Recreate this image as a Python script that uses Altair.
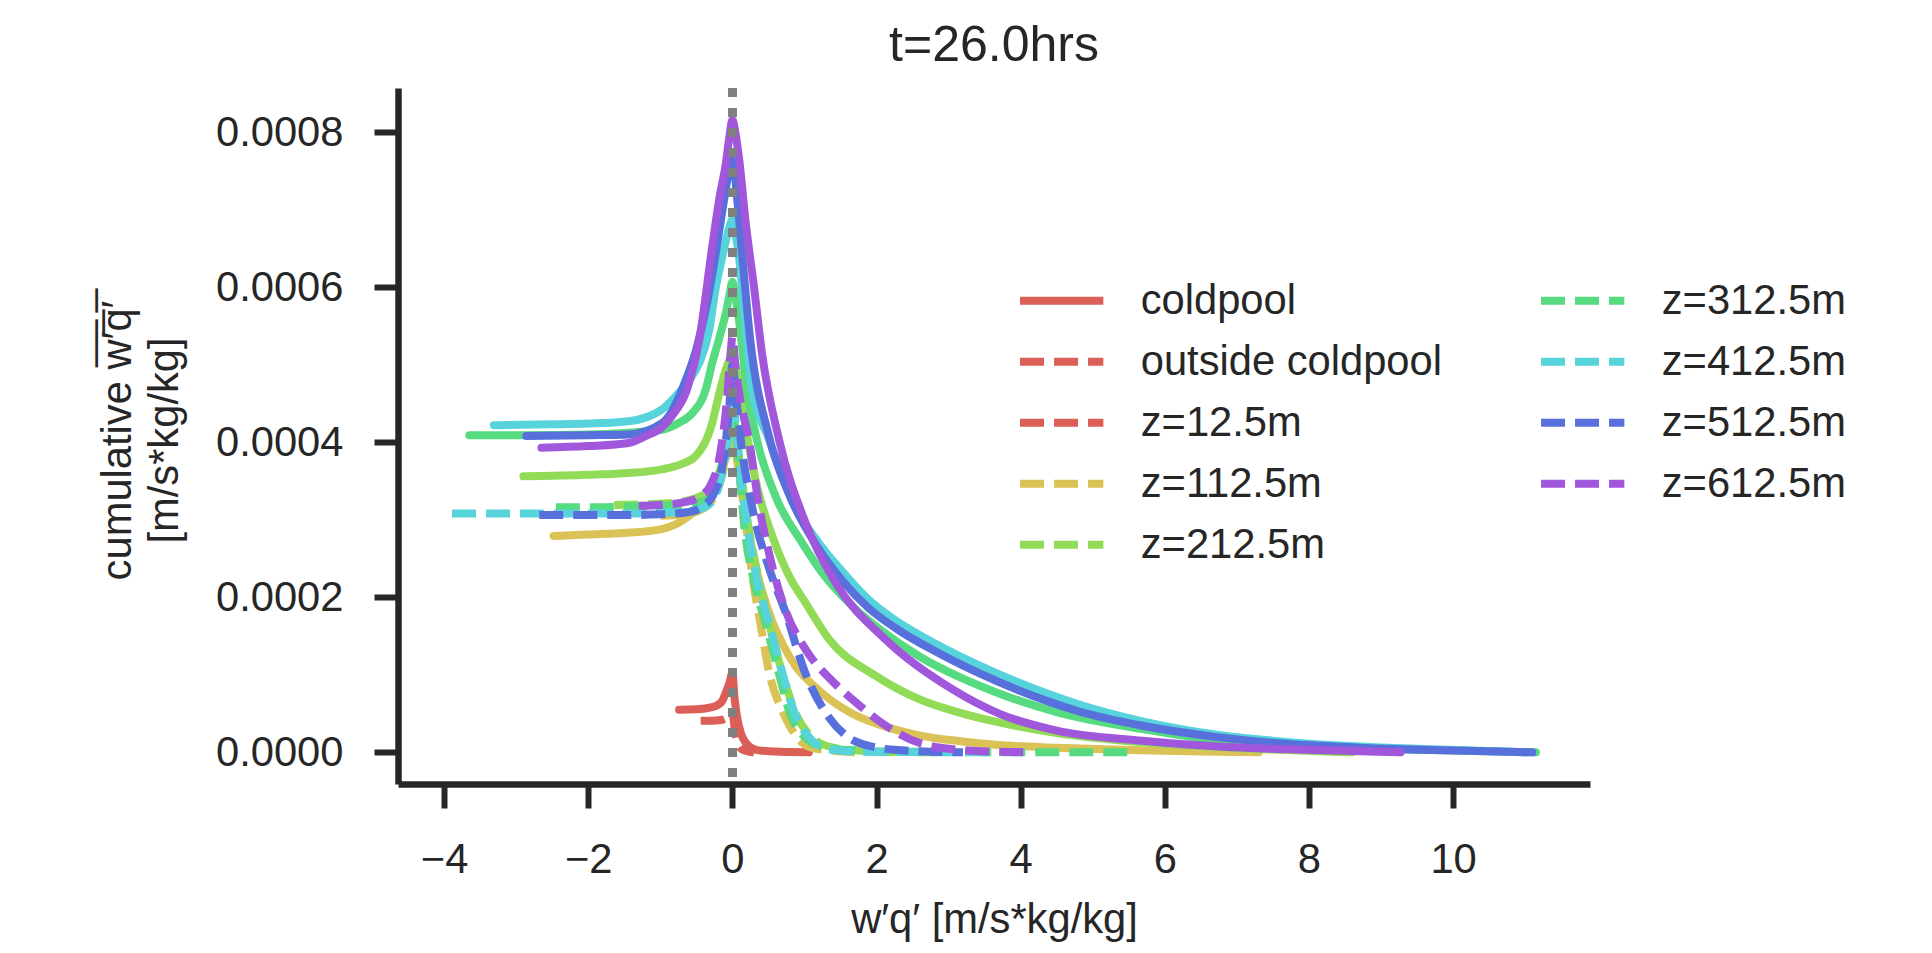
import altair as alt
import pandas as pd

# ---------------- data ----------------
heights = ["z=12.5m", "z=112.5m", "z=212.5m", "z=312.5m", "z=412.5m", "z=512.5m", "z=612.5m"]
colors = ["#db5f57", "#dbc257", "#91db57", "#57db80", "#57d3db", "#5770db", "#a157db"]

# coldpool (solid lines)
cp12_x = [-0.74, -0.5, -0.28, -0.15, -0.09, -0.04, 0.0, 0.03, 0.07, 0.12, 0.18, 0.28, 0.41, 0.6, 0.8, 1.06]
cp12_y = [0.55e-4, 0.555e-4, 0.583e-4, 0.65e-4, 0.773e-4, 0.90e-4, 1.03e-4, 0.70e-4, 0.43e-4, 0.24e-4,
          0.13e-4, 0.05e-4, 0.02e-4, 0.01e-4, 0.005e-4, 0.0]

cp112_x = [-2.48, -2.0, -1.5, -0.98, -0.6, -0.33, -0.15, -0.05, 0.0, 0.04, 0.1, 0.2, 0.35, 0.51, 0.8,
           1.2, 1.66, 2.2, 2.59, 3.2, 3.7, 4.5, 5.5, 6.5, 7.3]
cp112_y = [2.79e-4, 2.81e-4, 2.83e-4, 2.88e-4, 3.05e-4, 3.30e-4, 3.60e-4, 4.00e-4, 4.30e-4, 4.10e-4,
           3.70e-4, 3.00e-4, 2.30e-4, 1.80e-4, 1.22e-4, 0.80e-4, 0.50e-4, 0.31e-4, 0.22e-4, 0.14e-4,
           0.095e-4, 0.06e-4, 0.03e-4, 0.01e-4, 0.0]

cp212_x = [-2.9, -2.0, -1.5, -0.98, -0.7, -0.51, -0.28, -0.19, -0.09, 0.0, 0.04, 0.1, 0.2, 0.35, 0.55,
           0.8, 1.0, 1.34, 2.0, 2.59, 3.2, 3.7, 4.5, 5.69, 6.7, 7.7, 8.6]
cp212_y = [3.56e-4, 3.58e-4, 3.60e-4, 3.65e-4, 3.72e-4, 3.82e-4, 4.25e-4, 4.60e-4, 4.94e-4, 5.10e-4,
           5.00e-4, 4.70e-4, 4.10e-4, 3.40e-4, 2.80e-4, 2.25e-4, 1.95e-4, 1.46e-4, 0.98e-4, 0.686e-4,
           0.50e-4, 0.386e-4, 0.25e-4, 0.13e-4, 0.07e-4, 0.03e-4, 0.0]

cp312_x = [-3.65, -3.0, -2.0, -1.5, -0.98, -0.74, -0.56, -0.37, -0.28, -0.18, -0.09, -0.04, 0.0,
           0.04, 0.09, 0.2, 0.34, 0.6, 0.97, 1.3, 1.66, 2.1, 2.59, 3.2, 3.7, 4.5, 5.69, 6.7, 7.7,
           8.7, 9.7, 11.15]
cp312_y = [4.09e-4, 4.09e-4, 4.10e-4, 4.12e-4, 4.16e-4, 4.25e-4, 4.37e-4, 4.68e-4, 5.02e-4, 5.35e-4,
           5.67e-4, 5.90e-4, 6.07e-4, 5.90e-4, 5.58e-4, 4.70e-4, 4.03e-4, 3.30e-4, 2.70e-4, 2.25e-4,
           1.89e-4, 1.55e-4, 1.24e-4, 0.95e-4, 0.76e-4, 0.52e-4, 0.30e-4, 0.16e-4, 0.09e-4, 0.05e-4,
           0.03e-4, 0.0]

cp412_x = [-3.31, -2.5, -2.0, -1.44, -0.98, -0.79, -0.6, -0.46, -0.32, -0.23, -0.15, -0.09, -0.04,
           0.0, 0.04, 0.09, 0.18, 0.27, 0.51, 0.8, 1.2, 1.5, 1.89, 2.3, 2.82, 3.4, 3.97, 4.8, 5.69,
           6.7, 7.69, 8.7, 9.7, 11.0]
cp412_y = [4.22e-4, 4.23e-4, 4.24e-4, 4.27e-4, 4.42e-4, 4.59e-4, 4.80e-4, 5.02e-4, 5.45e-4, 6.00e-4,
           6.35e-4, 6.60e-4, 6.78e-4, 6.87e-4, 6.70e-4, 6.40e-4, 5.50e-4, 4.72e-4, 4.03e-4, 3.30e-4,
           2.70e-4, 2.36e-4, 1.97e-4, 1.68e-4, 1.40e-4, 1.13e-4, 0.90e-4, 0.62e-4, 0.40e-4,
           0.23e-4, 0.135e-4, 0.075e-4, 0.04e-4, 0.0]

cp512_x = [-2.86, -2.0, -1.44, -0.97, -0.84, -0.7, -0.5, -0.35, -0.22, -0.12, -0.05, 0.0, 0.04,
           0.1, 0.25, 0.5, 0.8, 1.2, 1.52, 1.89, 2.3, 2.82, 3.4, 3.97, 4.8, 5.69, 6.7, 7.69, 8.7,
           9.7, 11.1]
cp512_y = [4.08e-4, 4.09e-4, 4.10e-4, 4.25e-4, 4.40e-4, 4.68e-4, 5.20e-4, 5.80e-4, 6.50e-4, 7.10e-4,
           7.50e-4, 7.73e-4, 7.40e-4, 6.80e-4, 5.30e-4, 4.10e-4, 3.30e-4, 2.62e-4, 2.22e-4, 1.86e-4,
           1.58e-4, 1.30e-4, 1.03e-4, 0.80e-4, 0.53e-4, 0.343e-4, 0.20e-4, 0.11e-4, 0.06e-4,
           0.03e-4, 0.0]

cp612_x = [-2.65, -2.0, -1.44, -1.2, -0.97, -0.83, -0.63, -0.46, -0.28, -0.18, -0.09, -0.04, 0.0,
           0.04, 0.1, 0.18, 0.3, 0.41, 0.645, 1.015, 1.43, 2.12, 3.05, 3.7, 4.5, 5.69, 6.7, 7.7,
           8.5, 9.27]
cp612_y = [3.93e-4, 3.95e-4, 3.99e-4, 4.08e-4, 4.20e-4, 4.35e-4, 4.68e-4, 5.32e-4, 6.52e-4, 7.15e-4,
           7.60e-4, 7.95e-4, 8.16e-4, 8.00e-4, 7.60e-4, 6.87e-4, 6.00e-4, 5.15e-4, 4.04e-4, 2.96e-4,
           2.19e-4, 1.46e-4, 0.815e-4, 0.50e-4, 0.28e-4, 0.15e-4, 0.08e-4, 0.04e-4, 0.02e-4, 0.0]

# outside coldpool (dashed lines)
out12_x = [-0.44, -0.3, -0.14, -0.05, 0.0, 0.04, 0.09, 0.15, 0.3]
out12_y = [0.407e-4, 0.407e-4, 0.42e-4, 0.46e-4, 0.50e-4, 0.25e-4, 0.085e-4, 0.03e-4, 0.0]

out112_x = [-1.0, -0.6, -0.35, -0.2, -0.08, 0.0, 0.05, 0.09, 0.18, 0.27, 0.4, 0.51, 0.7, 0.92, 1.1,
            1.4, 1.7]
out112_y = [3.05e-4, 3.08e-4, 3.18e-4, 3.40e-4, 3.80e-4, 4.10e-4, 3.85e-4, 3.60e-4, 3.00e-4, 2.32e-4,
            1.60e-4, 1.03e-4, 0.52e-4, 0.17e-4, 0.06e-4, 0.02e-4, 0.0]

out212_x = [-1.64, -1.2, -0.8, -0.5, -0.3, -0.15, -0.05, 0.0, 0.05, 0.12, 0.2, 0.35, 0.5, 0.7, 0.88,
            1.1, 1.4, 1.8, 2.3, 2.8]
out212_y = [3.19e-4, 3.20e-4, 3.22e-4, 3.28e-4, 3.40e-4, 3.70e-4, 4.10e-4, 4.30e-4, 4.10e-4, 3.60e-4,
            3.05e-4, 2.30e-4, 1.70e-4, 1.00e-4, 0.50e-4, 0.20e-4, 0.06e-4, 0.02e-4, 0.005e-4, 0.0]

out312_x = [-2.45, -2.0, -1.5, -1.0, -0.6, -0.35, -0.2, -0.08, 0.0, 0.05, 0.1, 0.16, 0.3, 0.46, 0.65,
            0.81, 1.0, 1.2, 1.6, 2.2, 3.0, 4.0, 5.5]
out312_y = [3.16e-4, 3.16e-4, 3.17e-4, 3.18e-4, 3.20e-4, 3.26e-4, 3.50e-4, 4.00e-4, 4.40e-4, 4.10e-4,
            3.60e-4, 2.96e-4, 2.20e-4, 1.67e-4, 1.00e-4, 0.47e-4, 0.20e-4, 0.085e-4, 0.03e-4, 0.01e-4,
            0.005e-4, 0.0, 0.0]

out412_x = [-3.89, -3.0, -2.0, -1.5, -1.0, -0.6, -0.35, -0.2, -0.08, 0.0, 0.05, 0.1, 0.2, 0.35, 0.51,
            0.7, 0.88, 1.1, 1.34, 1.7, 2.3, 3.6]
out412_y = [3.08e-4, 3.08e-4, 3.08e-4, 3.08e-4, 3.09e-4, 3.11e-4, 3.18e-4, 3.40e-4, 3.90e-4, 4.60e-4,
            4.20e-4, 3.70e-4, 2.96e-4, 2.20e-4, 1.67e-4, 1.00e-4, 0.47e-4, 0.16e-4, 0.04e-4, 0.01e-4,
            0.005e-4, 0.0]

out512_x = [-2.68, -2.0, -1.5, -1.0, -0.6, -0.4, -0.25, -0.12, -0.04, 0.0, 0.05, 0.12, 0.27, 0.5,
            0.74, 1.0, 1.34, 1.6, 1.89, 2.3, 3.2]
out512_y = [3.06e-4, 3.06e-4, 3.06e-4, 3.07e-4, 3.10e-4, 3.18e-4, 3.35e-4, 3.80e-4, 4.50e-4, 5.00e-4,
            4.60e-4, 4.00e-4, 3.18e-4, 2.40e-4, 1.80e-4, 1.05e-4, 0.45e-4, 0.20e-4, 0.085e-4,
            0.03e-4, 0.0]

out612_x = [-1.3, -1.0, -0.7, -0.45, -0.3, -0.18, -0.08, -0.02, 0.0, 0.04, 0.1, 0.23, 0.37, 0.5,
            0.75, 1.0, 1.43, 1.77, 2.12, 2.6, 3.2, 4.1]
out612_y = [3.18e-4, 3.19e-4, 3.22e-4, 3.30e-4, 3.45e-4, 3.80e-4, 4.50e-4, 5.20e-4, 5.36e-4, 5.00e-4,
            4.60e-4, 4.03e-4, 3.18e-4, 2.60e-4, 1.80e-4, 1.35e-4, 0.88e-4, 0.60e-4, 0.35e-4,
            0.12e-4, 0.03e-4, 0.0]

x_ticks = [-4, -2, 0, 2, 4, 6, 8, 10]
y_ticks = [0.0, 0.0002, 0.0004, 0.0006, 0.0008]

# legend entries (the legend fills column by column)
legend_labels = ["coldpool", "outside coldpool", "z=12.5m", "z=112.5m", "z=212.5m",
                 "z=312.5m", "z=412.5m", "z=512.5m", "z=612.5m"]
legend_colors = ["#db5f57", "#db5f57", "#db5f57", "#dbc257", "#91db57",
                 "#57db80", "#57d3db", "#5770db", "#a157db"]

# ---------------- build tables ----------------
solid = [(cp12_x, cp12_y), (cp112_x, cp112_y), (cp212_x, cp212_y), (cp312_x, cp312_y),
         (cp412_x, cp412_y), (cp512_x, cp512_y), (cp612_x, cp612_y)]
dashed = [(out12_x, out12_y), (out112_x, out112_y), (out212_x, out212_y), (out312_x, out312_y),
          (out412_x, out412_y), (out512_x, out512_y), (out612_x, out612_y)]

rows = []
for i, h in enumerate(heights):
    for kind, (xs, ys) in (("coldpool", solid[i]), ("outside", dashed[i])):
        for xv, yv in zip(xs, ys):
            rows.append({"x": xv, "y": yv, "series": f"{kind}|{h}"})
df = pd.DataFrame(rows)

legend_df = pd.DataFrame({"label": legend_labels, "x": [0.0] * 9, "y": [0.0] * 9})

FONT = "Liberation Sans"
TXT = "#262626"
FS = 41.7
LW = 8
DASH = [24, 10]

x_scale = alt.Scale(domain=[-4.64, 11.9], nice=False, zero=False)
y_scale = alt.Scale(domain=[-0.0000408, 0.0008568], nice=False, zero=False)

x_enc = alt.X("x:Q", scale=x_scale,
              axis=alt.Axis(values=x_ticks, format="d", title="w′q′ [m/s*kg/kg]",
                            titleY=148, titleBaseline="alphabetic", labelFlush=False,
                            labelOverlap=False))
y_enc = alt.Y("y:Q", scale=y_scale,
              axis=alt.Axis(values=y_ticks, format=".4f",
                            title=["cumulative w\u0305\u2032\u0305q\u0305\u2032\u0305", "[m/s*kg/kg]"],
                            titleAngle=270, titleX=-268, titleY=352, titleAlign="center",
                            titleBaseline="alphabetic", titleLineHeight=47, labelOverlap=False))

leg = alt.Legend(title=None, orient="none", legendX=617.7, legendY=191.7, columns=2,
                 symbolType="stroke", symbolSize=6944, symbolStrokeWidth=LW,
                 labelFontSize=FS, labelFont=FONT, labelColor=TXT, labelLimit=800,
                 labelOffset=33, columnPadding=94, rowPadding=18, clipHeight=42, padding=0)

legend_layer = alt.Chart(legend_df).mark_line(strokeWidth=LW).encode(
    x=x_enc, y=y_enc,
    color=alt.Color("label:N", scale=alt.Scale(domain=legend_labels, range=legend_colors), legend=leg),
    strokeDash=alt.StrokeDash("label:N",
                              scale=alt.Scale(domain=legend_labels,
                                              range=[[1, 0]] + [DASH] * 8),
                              legend=leg),
)

layers = [legend_layer]
for i, h in enumerate(heights):
    layers.append(
        alt.Chart(df).transform_filter(alt.datum.series == f"coldpool|{h}")
        .mark_line(color=colors[i], strokeWidth=LW, strokeCap="round", strokeJoin="round",
                   interpolate="monotone")
        .encode(x=x_enc, y=y_enc, order="x:Q")
    )
    layers.append(
        alt.Chart(df).transform_filter(alt.datum.series == f"outside|{h}")
        .mark_line(color=colors[i], strokeWidth=LW, strokeDash=DASH, strokeCap="butt",
                   strokeJoin="round", interpolate="monotone")
        .encode(x=x_enc, y=y_enc, order="x:Q")
    )

zero_line = alt.Chart(legend_df).mark_rule(color="#808080", strokeWidth=8.5,
                                            strokeDash=[8.5, 11.5]).encode(x=alt.datum(0))
layers.append(zero_line)

chart = alt.layer(*layers).resolve_scale(color="independent", strokeDash="independent").properties(
    width=1192, height=696,
    autosize=alt.AutoSizeParams(type="none"),
    padding={"left": 398, "top": 88, "right": 342, "bottom": 169},
    title=alt.TitleParams("t=26.0hrs", fontSize=50, fontWeight="normal", color=TXT, font=FONT,
                          anchor="middle", frame="group", baseline="alphabetic", offset=26, dy=53),
    background="white",
).configure_view(stroke=None).configure_axis(
    domainColor=TXT, domainWidth=6.5, tickColor=TXT, tickWidth=6, tickSize=24,
    labelFont=FONT, labelFontSize=FS, labelColor=TXT, labelPadding=31,
    titleFont=FONT, titleFontSize=FS, titleFontWeight="normal", titleColor=TXT, grid=False,
).configure_legend(labelFont=FONT)

chart.save("out.html", embed_options={"renderer": "svg", "actions": False})
